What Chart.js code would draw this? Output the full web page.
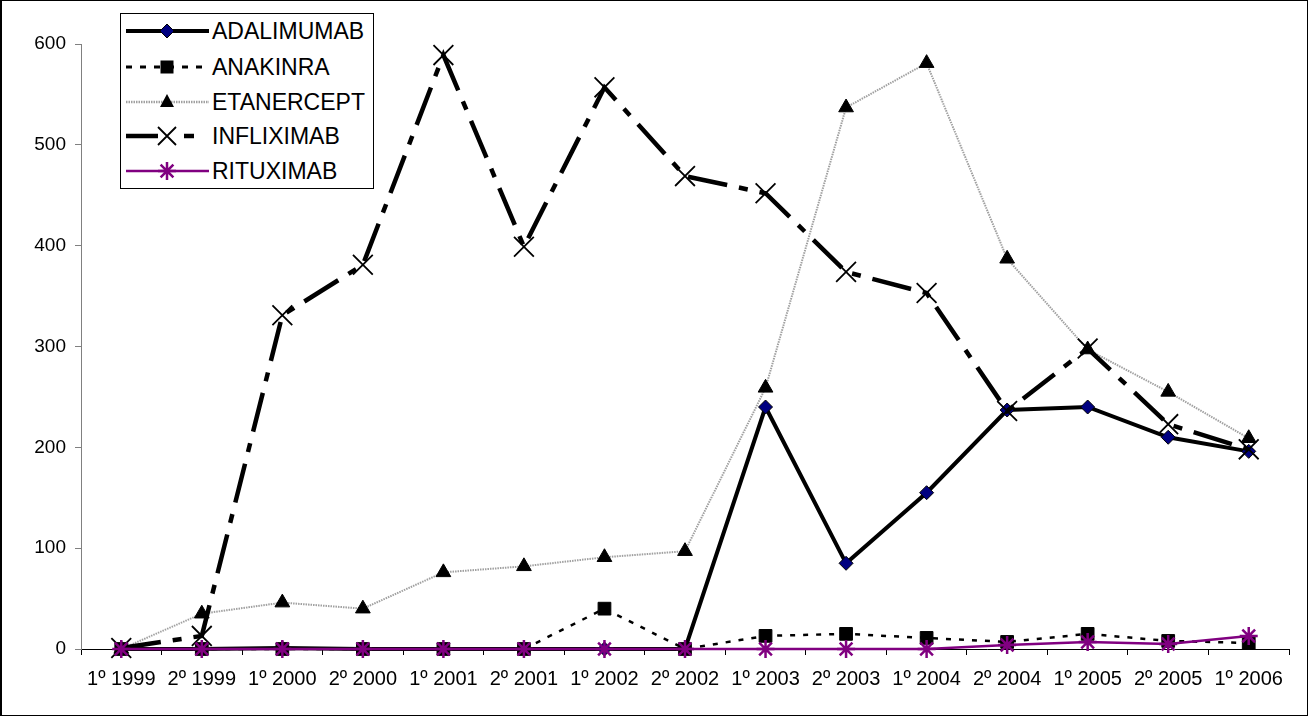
<!DOCTYPE html>
<html><head><meta charset="utf-8">
<script src="https://cdn.jsdelivr.net/npm/chart.js@4.4.0/dist/chart.umd.min.js"></script>
<style>
html,body{margin:0;padding:0;background:#fff;}
#wrap{position:relative;width:1311px;height:716px;overflow:hidden;background:#fff;}
#c{position:absolute;left:0;top:0;}
#frame{position:absolute;left:0;top:0;width:1305px;height:714px;border:1px solid #000;border-left-width:2px;pointer-events:none;}
#legend{position:absolute;left:120px;top:13px;width:252px;height:174px;border:1px solid #000;background:#fff;font-family:"Liberation Sans",Arial,sans-serif;font-size:23px;color:#000;}
.row{position:absolute;left:0;width:252px;height:30px;}
.row svg{position:absolute;left:0;top:0;}
.row span{position:absolute;left:91px;top:0;line-height:30px;white-space:nowrap;}
</style></head>
<body>
<div id="wrap">
<canvas id="c" width="1311" height="716"></canvas>
<div id="legend"></div>
<div id="frame"></div>
</div>
<script>
const categories = ['1º 1999','2º 1999','1º 2000','2º 2000','1º 2001','2º 2001','1º 2002','2º 2002','1º 2003','2º 2003','1º 2004','2º 2004','1º 2005','2º 2005','1º 2006'];
const seriesNames = ['ADALIMUMAB','ANAKINRA','ETANERCEPT','INFLIXIMAB','RITUXIMAB'];
const adalimumab = [0,0,1,0,0,0,0,0,240,85,155,237,240,210,196];
const anakinra   = [0,0,0,0,0,0,40,0,13,15,11,7,15,8,6];
const etanercept = [0,35,46,40,76,82,91,97,259,537,581,387,297,255,209];
const infliximab = [1,13,331,381,589,399,557,469,452,374,353,236,298,223,198];
const rituximab  = [0,0,0,0,0,0,0,0,0,0,0,4,7,5,13];
const yTicks = [0,100,200,300,400,500,600];

const FONT = '"Liberation Sans", Arial, sans-serif';
Chart.defaults.font.family = FONT;
Chart.defaults.color = '#000';

const datasets = [
  {label: seriesNames[0], data: adalimumab, borderColor:'#000', borderWidth:4, pointStyle:'rectRot', pointRadius:7, pointHoverRadius:7,
   pointBackgroundColor:'#000080', pointBorderColor:'#000', pointBorderWidth:1, order:5},
  {label: seriesNames[1], data: anakinra, borderColor:'#000', borderWidth:2.5, borderDash:[5,8], pointStyle:'rect', pointRadius:9, pointHoverRadius:9,
   pointBackgroundColor:'#000', pointBorderColor:'#000', pointBorderWidth:1, order:4},
  {label: seriesNames[2], data: etanercept, borderColor:'#a0a0a0', borderWidth:2, borderDash:[1.5,1], pointStyle:'triangle', pointRadius:8.5, pointHoverRadius:8.5,
   pointBackgroundColor:'#000', pointBorderColor:'#000', pointBorderWidth:1, order:3},
  {label: seriesNames[3], data: infliximab, borderColor:'#000', borderWidth:4.5, borderDash:[40,12,9,12], pointStyle:'crossRot', pointRadius:14, pointHoverRadius:14,
   pointBackgroundColor:'#000', pointBorderColor:'#000', pointBorderWidth:1.8, order:2},
  {label: seriesNames[4], data: rituximab, borderColor:'#800080', borderWidth:2.5, pointStyle:'star', pointRadius:9, pointHoverRadius:9,
   pointBackgroundColor:'#800080', pointBorderColor:'#800080', pointBorderWidth:2.5, order:1}
].map(d => Object.assign({fill:false, tension:0, clip:false}, d));

new Chart(document.getElementById('c'), {
  type:'line',
  data:{labels: categories, datasets},
  options:{
    responsive:false, animation:false,
    layout:{padding:{top:44, right:22, bottom:0, left:0}},
    plugins:{legend:{display:false}, tooltip:{enabled:false}},
    scales:{
      x:{
        type:'category', offset:true,
        grid:{display:true, offset:true, drawOnChartArea:false, drawTicks:true, tickLength:6, color:'#000', lineWidth:1},
        border:{display:true, color:'#000', width:1},
        ticks:{font:{size:20}, color:'#000', padding:12, maxRotation:0, minRotation:0, autoSkip:false},
        afterFit: s => { s.height = 67; }
      },
      y:{
        min:0, max:600,
        afterBuildTicks: s => { s.ticks = yTicks.map(v => ({value:v})); },
        grid:{display:true, drawOnChartArea:false, drawTicks:true, tickLength:6, color:'#808080', lineWidth:1},
        border:{display:true, color:'#808080', width:1},
        ticks:{font:{size:19}, color:'#000', padding:9},
        afterFit: s => { s.width = 81; }
      }
    }
  }
});

// HTML legend
const rowTops = [2, 38, 73, 107, 142];
const mx = 46, my = 15;
const samples = [
  `<line x1="5" y1="${my}" x2="88" y2="${my}" stroke="#000" stroke-width="4"/>
   <polygon points="${mx},${my-7} ${mx+7},${my} ${mx},${my+7} ${mx-7},${my}" fill="#000080" stroke="#000" stroke-width="1"/>`,
  `<line x1="5" y1="${my}" x2="88" y2="${my}" stroke="#000" stroke-width="3" stroke-dasharray="6,8"/>
   <rect x="${mx-6.5}" y="${my-6.5}" width="13" height="13" fill="#000"/>`,
  `<line x1="5" y1="${my}" x2="88" y2="${my}" stroke="#a0a0a0" stroke-width="2.5" stroke-dasharray="1.5,1"/>
   <polygon points="${mx},${my-8} ${mx+7},${my+5} ${mx-7},${my+5}" fill="#000"/>`,
  `<line x1="5" y1="${my}" x2="88" y2="${my}" stroke="#000" stroke-width="4.5" stroke-dasharray="32,26,10,100"/>
   <path d="M${mx-9},${my-9}L${mx+9},${my+9}M${mx+9},${my-9}L${mx-9},${my+9}" stroke="#000" stroke-width="1.8"/>`,
  `<line x1="5" y1="${my}" x2="88" y2="${my}" stroke="#800080" stroke-width="2.5"/>
   <path d="M${mx},${my-9}L${mx},${my+9}M${mx-9},${my}L${mx+9},${my}M${mx-6.4},${my-6.4}L${mx+6.4},${my+6.4}M${mx+6.4},${my-6.4}L${mx-6.4},${my+6.4}" stroke="#800080" stroke-width="2.5"/>`
];
const leg = document.getElementById('legend');
seriesNames.forEach((n, i) => {
  const r = document.createElement('div');
  r.className = 'row';
  r.style.top = rowTops[i] + 'px';
  r.innerHTML = `<svg width="92" height="30">${samples[i]}</svg><span>${n}</span>`;
  leg.appendChild(r);
});
</script>
</body></html>
